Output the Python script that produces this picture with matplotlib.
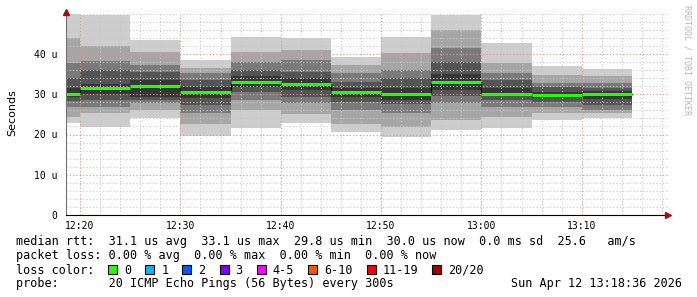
import matplotlib
matplotlib.use("Agg")
import matplotlib.pyplot as plt
from matplotlib.patches import Rectangle
from matplotlib.ticker import MultipleLocator, FixedLocator

# minutes after 12:00
bin_start = [15, 20, 25, 30, 35, 40, 45, 50, 55, 60, 65, 70]
bin_width = 5
# smoke: 11 sorted levels per 5 min bin (min .. median .. max), in us
smoke = [
    [22.9, 24.4, 26.9, 28.4, 29.3, 30.0, 31.5, 34.0, 37.8, 44.0, 49.9],
    [21.9, 25.3, 26.9, 28.5, 30.1, 31.5, 32.5, 36.0, 38.3, 42.0, 49.7],
    [24.0, 26.1, 27.8, 28.6, 29.4, 32.0, 33.5, 35.5, 37.3, 40.5, 43.5],
    [19.6, 22.5, 25.3, 27.3, 29.0, 30.5, 31.8, 33.5, 35.2, 36.5, 38.5],
    [21.5, 26.1, 28.6, 30.5, 31.8, 33.1, 34.5, 36.0, 38.1, 40.5, 44.1],
    [22.8, 25.0, 27.8, 29.4, 31.0, 32.5, 34.0, 35.5, 38.5, 41.0, 43.9],
    [20.7, 22.5, 26.1, 28.0, 29.3, 30.5, 31.5, 33.1, 35.3, 37.3, 39.3],
    [19.3, 21.9, 25.3, 27.5, 28.6, 30.0, 31.5, 34.0, 36.0, 40.2, 44.3],
    [21.1, 23.6, 27.8, 29.5, 31.0, 33.1, 35.0, 38.1, 41.4, 46.0, 49.7],
    [21.5, 24.4, 26.9, 28.5, 29.5, 30.1, 31.5, 33.5, 35.2, 37.7, 42.8],
    [23.6, 25.3, 26.9, 28.0, 29.0, 29.7, 30.6, 31.8, 32.9, 34.8, 37.0],
    [24.0, 25.3, 26.1, 27.3, 28.8, 30.0, 30.8, 31.5, 32.7, 34.5, 36.2],
]
median = [row[5] for row in smoke]
smoke_grays = ['#363636', '#545454', '#7a7a7a', '#a6a6a6', '#cdcdcd']

x_ticks = [20, 30, 40, 50, 60, 70]
x_labels = ['12:20', '12:30', '12:40', '12:50', '13:00', '13:10']
y_ticks = [0, 10, 20, 30, 40]

legend_lines = [
    "median rtt:  31.1 us avg  33.1 us max  29.8 us min  30.0 us now  0.0 ms sd  25.6   am/s",
    "packet loss: 0.00 % avg  0.00 % max  0.00 % min  0.00 % now",
]
loss_labels = ['0', '1', '2', '3', '4-5', '6-10', '11-19', '20/20']
loss_colors = ['#26ff00', '#00b8ff', '#0059ff', '#7e00ff', '#ff00ff', '#ff5500', '#ff0000', '#a00000']
probe_text = "probe:       20 ICMP Echo Pings (56 Bytes) every 300s"
stamp_text = "Sun Apr 12 13:18:36 2026"

W, H = 697, 297
fig = plt.figure(figsize=(W / 100, H / 100), dpi=100)
ax = fig.add_axes([66 / W, 82 / H, 602 / W, 201.25 / H])
ax.set_xlim(18.6, 78.6)
ax.set_ylim(0, 50)

# smoke bands, darker towards the median
for s, row in zip(bin_start, smoke):
    for k in range(10):
        d = 4 - k if k < 5 else k - 5
        ax.bar(s, row[k + 1] - row[k], bottom=row[k], width=bin_width, align='edge',
               color=smoke_grays[d], linewidth=0, zorder=1)

# median: dark steps + green segments
edges = bin_start + [bin_start[-1] + bin_width]
ax.step(edges, median + [median[-1]], where='post', color='#111111', lw=0.9, zorder=3)
ax.hlines(median, bin_start, [b + bin_width for b in bin_start], color='#22ff00', lw=2.2, zorder=4)

# grid
ax.xaxis.set_major_locator(FixedLocator(x_ticks))
ax.xaxis.set_minor_locator(MultipleLocator(2))
ax.yaxis.set_major_locator(FixedLocator(y_ticks))
ax.yaxis.set_minor_locator(MultipleLocator(2))
ax.grid(which='minor', color='#c8c8c8', ls=(0, (1, 2)), lw=0.8, zorder=5)
ax.grid(which='major', color='#e89090', ls=(0, (1, 2)), lw=0.8, zorder=6)
ax.set_axisbelow(False)

ax.set_xticklabels(x_labels)
ax.set_yticklabels(['0'] + [f'{v} u' for v in y_ticks[1:]])
ax.tick_params(which='both', length=0)
ax.tick_params(axis='x', pad=4)
ax.tick_params(axis='y', pad=6)
for lab in ax.get_xticklabels() + ax.get_yticklabels():
    lab.set_fontfamily('DejaVu Sans Mono')
    lab.set_fontsize(7)

for sp in ['top', 'right']:
    ax.spines[sp].set_visible(False)
ax.spines['left'].set_color('#707070')
ax.spines['bottom'].set_color('black')
ax.spines['left'].set_zorder(7)
ax.spines['bottom'].set_zorder(7)
ax.plot([1.0], [0], marker='>', color='#a01010', ms=4, transform=ax.transAxes, clip_on=False, zorder=8)
ax.plot([0], [1.01], marker='^', color='#a01010', ms=4, transform=ax.transAxes, clip_on=False, zorder=8)

fig.text(12 / W, 1 - 113 / H, 'Seconds', rotation=90, ha='center', va='center',
         fontsize=8, family='DejaVu Sans')
fig.text(687 / W, 1 - 5 / H, 'RRDTOOL / TOBI OETIKER', rotation=270, ha='center', va='top',
         fontsize=6, family='DejaVu Sans Mono', color='#b8b8b8')

# legend area
cw = 7.1
fs = 8.5
mono = 'DejaVu Sans Mono'
def px(x, y):
    return x / W, 1 - y / H

for i, line in enumerate(legend_lines):
    fig.text(*px(16, 245.5 + 14 * i), line, family=mono, fontsize=fs, va='baseline')

y3 = 245.5 + 28
fig.text(*px(16, y3), "loss color:", family=mono, fontsize=fs, va='baseline')
bx = 108
for lab, col in zip(loss_labels, loss_colors):
    fig.add_artist(Rectangle(px(bx, y3), 9 / W, 9 / H, transform=fig.transFigure,
                             facecolor=col, edgecolor='black', lw=0.8))
    fig.text(*px(bx + 16, y3), lab, family=mono, fontsize=fs, va='baseline')
    bx += 23 + cw * (len(lab) + 1)

fig.text(*px(16, y3 + 14), probe_text, family=mono, fontsize=fs, va='baseline')
fig.text(*px(682, y3 + 14), stamp_text, family=mono, fontsize=fs, va='baseline', ha='right')

fig.savefig('out.png', dpi=100)
